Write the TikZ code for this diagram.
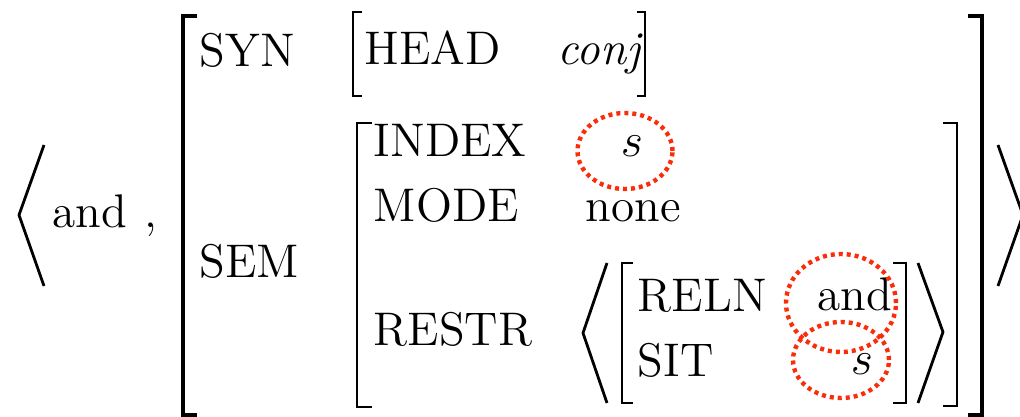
\documentclass[tikz,border=0pt]{standalone}
\usepackage{tikz}
\definecolor{tagred}{RGB}{250,45,10}
\begin{document}
\begin{tikzpicture}
[x=0.25pt,y=-0.25pt,every node/.style={inner sep=0pt,anchor=base west,font=\fontsize{11.8}{14}\selectfont},
 brk/.style={line width=0.7pt},outerbrk/.style={line width=0.85pt},ang/.style={line width=0.7pt},
 tag/.style={tagred,line width=1.1pt,dash pattern=on 1pt off 1pt}]
\useasboundingbox (0,0) rectangle (1020,417);
   % word and outer features
   \node (word)  at (52,228) {and};
   \node (comma) at (144,228) {,};
   \node (syn)   at (199,67) {SYN};
   \node (sem)   at (199,278) {SEM};
   \node (head)  at (364,65) {HEAD};
   \node (conj)  at (557,65) {\textit{conj}};
   % semantics
   \node (index) at (373,157) {INDEX};
   \node (mode)  at (373,222) {MODE};
   \node (restr) at (373,346) {RESTR};
   \node (sidx)  at (620,157) {$s$};
   \node (none)  at (585,222) {none};
   \node (reln)  at (637,312) {RELN};
   \node (sit)   at (637,377) {SIT};
   \node (rand)  at (817,311) {and};
   \node (ssit)  at (850,375) {$s$};
   % angle brackets
   \draw[ang] (44,145) -- (19,215) -- (44,286);
   \draw[ang] (998,145) -- (1023,215) -- (998,286);
   \draw[ang] (607,263) -- (583,333) -- (607,403);
   \draw[ang] (918,263) -- (943,332) -- (918,403);
   % square brackets
   \draw[outerbrk] (197,16) -- (183,16) -- (183,415) -- (197,415);
   \draw[outerbrk] (968,16) -- (982,16) -- (982,415) -- (968,415);
   \draw[brk] (362,12) -- (353,12) -- (353,96) -- (362,96);
   \draw[brk] (637,12) -- (645,12) -- (645,96) -- (637,96);
   \draw[brk] (372,123) -- (357,123) -- (357,407) -- (372,407);
   \draw[brk] (943,123) -- (957,123) -- (957,406) -- (943,406);
   \draw[brk] (633,263) -- (622,263) -- (622,403) -- (633,403);
   \draw[brk] (893,263) -- (906,263) -- (906,403) -- (893,403);
   % tags
   \draw[tag] (625,151) ellipse [x radius=11.875pt, y radius=9.5pt];
   \draw[tag] (841,303) ellipse [x radius=13.75pt, y radius=12.25pt];
   \draw[tag] (841,360) ellipse [x radius=12pt, y radius=9.5pt];
\end{tikzpicture}
\end{document}
